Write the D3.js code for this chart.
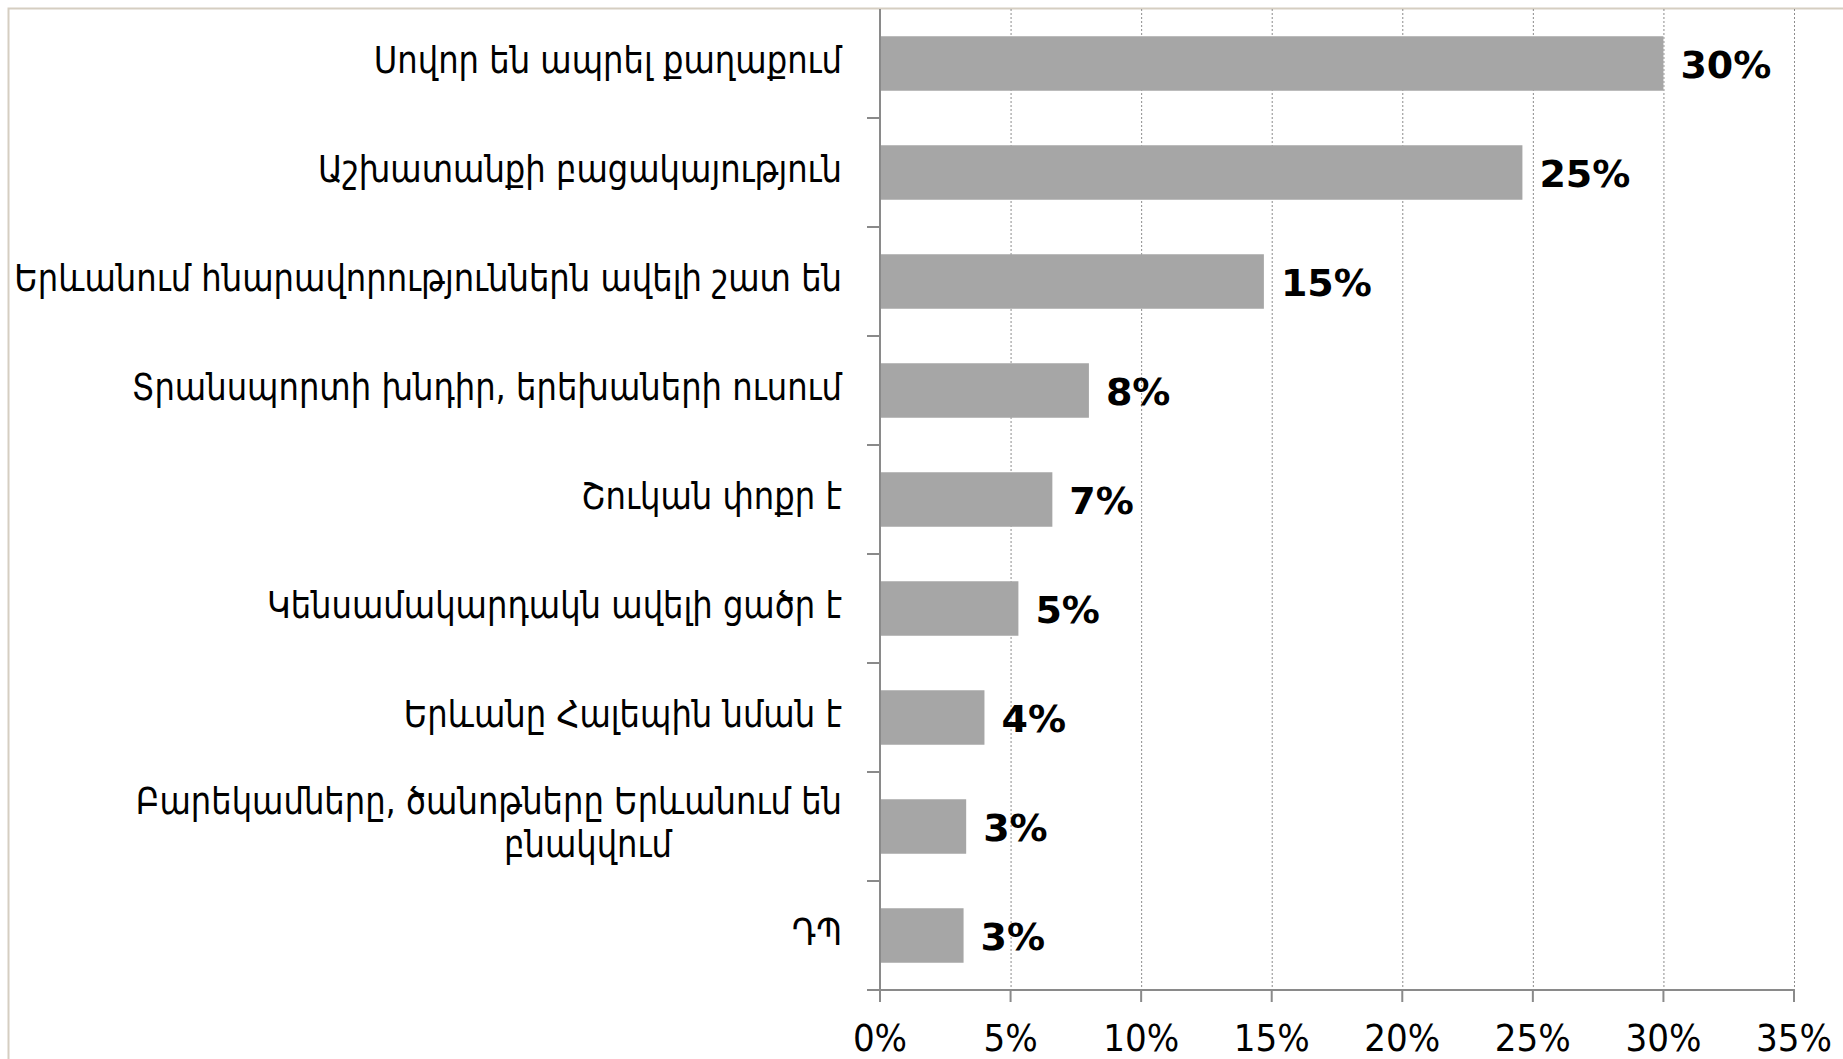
<!DOCTYPE html>
<meta charset="utf-8">
<style>
body { margin: 0; background: #fff; }
.grid line { stroke: #8c8c8c; stroke-dasharray: 2,2; }
.axis line, .axis path { stroke: #8a8a8a; stroke-width: 2px; }
.cat text { font-family: "DejaVu Sans Condensed", "DejaVu Sans", sans-serif; font-size: 37px; fill: #000; }
.tick-label { font-family: "DejaVu Sans Condensed", "DejaVu Sans", sans-serif; font-size: 38px; fill: #000; }
.val { font-family: "DejaVu Sans", sans-serif; font-weight: bold; font-size: 38px; fill: #000; }
</style>
<svg width="1843" height="1059"></svg>
<script src="https://d3js.org/d3.v7.min.js"></script>
<script>

var categories = [
    "Սովոր են ապրել քաղաքում",
    "Աշխատանքի բացակայություն",
    "Երևանում հնարավորություններն ավելի շատ են",
    "Տրանսպորտի խնդիր, երեխաների ուսում",
    "Շուկան փոքր է",
    "Կենսամակարդակն ավելի ցածր է",
    "Երևանը Հալեպին նման է",
    "Բարեկամները, ծանոթները Երևանում են\nբնակվում",
    "ԴՊ"
];
var values = [30.0, 24.6, 14.7, 8.0, 6.6, 5.3, 4.0, 3.3, 3.2];
var xTicks = [0, 5, 10, 15, 20, 25, 30, 35];

var svg = d3.select("svg");

// outer frame (only top/left visible in the picture)
svg.append("rect")
    .attr("x", 8.5).attr("y", 8.5)
    .attr("width", 1900).attr("height", 1100)
    .attr("fill", "none")
    .attr("stroke", "#d5cec1")
    .attr("stroke-width", 2);

var plotLeft = 880, plotRight = 1794, plotTop = 9, plotBottom = 990;
var labelRight = 842;

var x = d3.scaleLinear().domain([0, 35]).range([plotLeft, plotRight]);
var y = d3.scaleBand().domain(d3.range(categories.length))
    .range([plotTop, plotBottom]).paddingInner(0.5).paddingOuter(0.25);
var band = (plotBottom - plotTop) / categories.length;

// grid
svg.append("g").attr("class", "grid")
    .selectAll("line")
    .data(xTicks.slice(1))
    .enter().append("line")
    .attr("x1", function (d) { return x(d) + 0.5; })
    .attr("x2", function (d) { return x(d) + 0.5; })
    .attr("y1", plotTop)
    .attr("y2", plotBottom);

// bars
svg.append("g")
    .selectAll("rect")
    .data(values)
    .enter().append("rect")
    .attr("x", x(0))
    .attr("y", function (d, i) { return y(i); })
    .attr("width", function (d) { return x(d) - x(0); })
    .attr("height", y.bandwidth())
    .attr("fill", "#a6a6a6");

// value labels
var fmt = d3.format(".0f");
svg.append("g")
    .selectAll("text")
    .data(values)
    .enter().append("text")
    .attr("class", "val")
    .attr("x", function (d) { return x(d) + 17; })
    .attr("y", function (d, i) { return plotTop + band * (i + 0.5) + 14; })
    .text(function (d) { return fmt(d) + "%"; });

// y axis line + ticks
var axis = svg.append("g").attr("class", "axis");
axis.append("line")
    .attr("x1", plotLeft).attr("x2", plotLeft)
    .attr("y1", plotTop).attr("y2", plotBottom + 12);
axis.selectAll(".ytick")
    .data(d3.range(1, categories.length + 1))
    .enter().append("line")
    .attr("class", "ytick")
    .attr("x1", plotLeft - 13).attr("x2", plotLeft)
    .attr("y1", function (d) { return plotTop + band * d; })
    .attr("y2", function (d) { return plotTop + band * d; });

// x axis line + ticks
axis.append("line")
    .attr("x1", plotLeft - 13).attr("x2", plotRight)
    .attr("y1", plotBottom).attr("y2", plotBottom);
axis.selectAll(".xtick")
    .data(xTicks)
    .enter().append("line")
    .attr("class", "xtick")
    .attr("x1", function (d) { return x(d); })
    .attr("x2", function (d) { return x(d); })
    .attr("y1", plotBottom).attr("y2", plotBottom + 12);

svg.append("g")
    .selectAll("text")
    .data(xTicks)
    .enter().append("text")
    .attr("class", "tick-label")
    .attr("x", function (d) { return x(d); })
    .attr("y", 1051)
    .attr("text-anchor", "middle")
    .text(function (d) { return d + "%"; });

// category labels, squeezed horizontally to the narrow look of the original
var cat = svg.append("g").attr("class", "cat");
var labels = cat.selectAll("text")
    .data(categories)
    .enter().append("text")
    .attr("text-anchor", "end")
    .each(function (d, i) {
        var lines = d.split("\n");
        var cy = plotTop + band * (i + 0.5) + 10;
        var t = d3.select(this);
        if (lines.length === 1) {
            t.append("tspan").attr("x", 0).attr("y", cy).text(lines[0]);
        } else {
            t.append("tspan").attr("x", 0).attr("y", cy - 22).text(lines[0]);
            t.append("tspan").attr("class", "second").attr("y", cy + 21)
                .attr("text-anchor", "middle").text(lines[1]);
        }
    });

var maxW = 0;
labels.each(function () {
    d3.select(this).selectAll("tspan").each(function () {
        maxW = Math.max(maxW, this.getComputedTextLength());
    });
});
var sx = 828 / maxW;
cat.attr("transform", "translate(" + labelRight + ",0) scale(" + sx + ",1)");
cat.selectAll("tspan.second").attr("x", -254 / sx);

</script>
